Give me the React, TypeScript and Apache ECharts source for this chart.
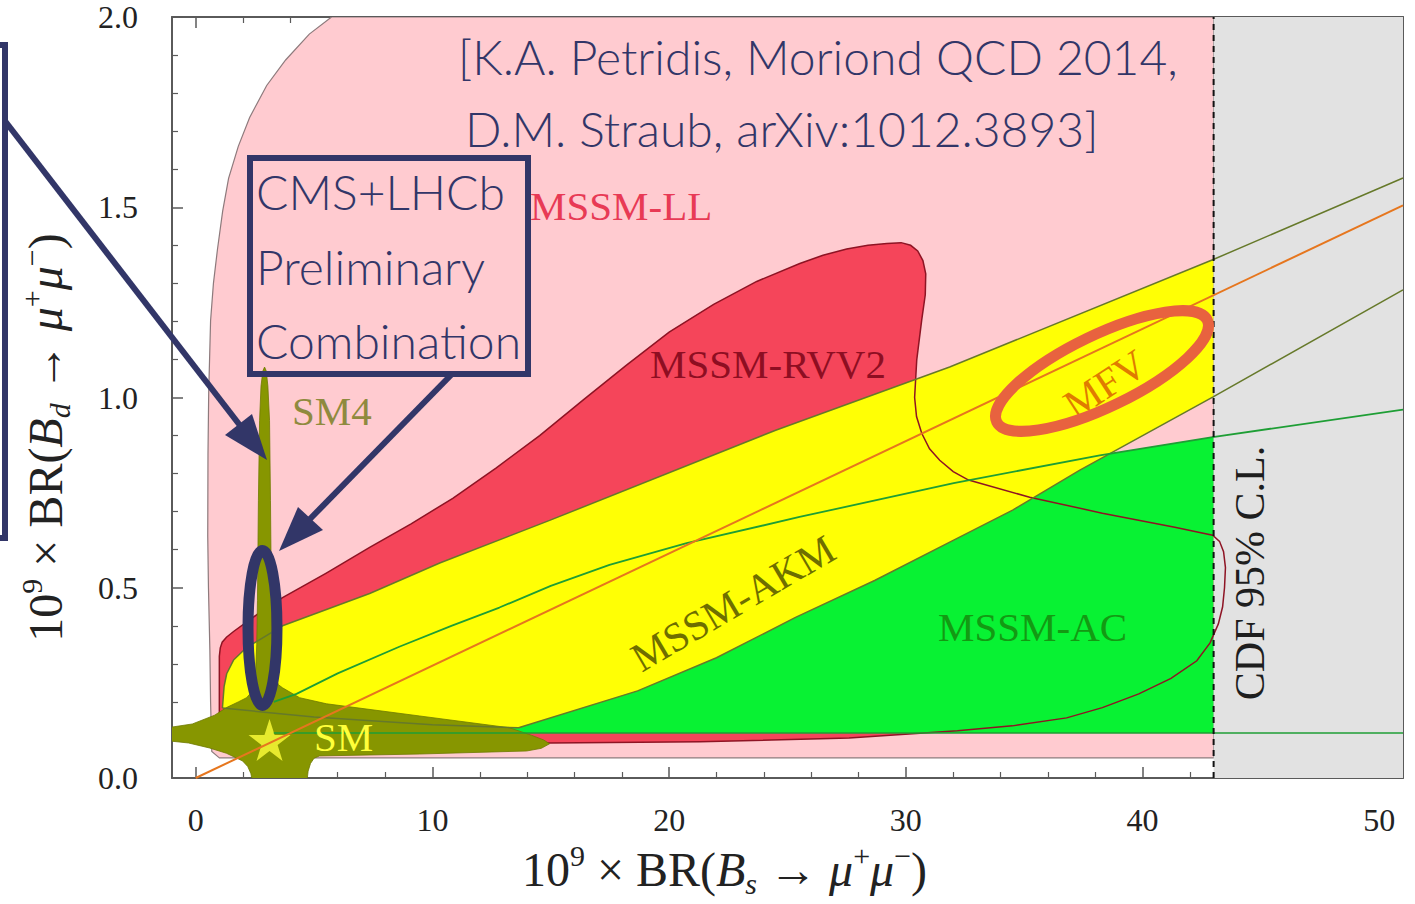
import React, { useEffect, useRef } from 'react';
import * as echarts from 'echarts';

// ---- axis ranges / ticks ----
const xRange = [-1, 51];
const yRange = [0, 2];
const xTickRange = [0, 50];
const xTickStep = 10;
const yTickStep = 0.5;

// ---- regions (x = 1e9 BR(Bs->mumu), y = 1e9 BR(Bd->mumu)) ----
const mssmLL = [
  [1.0, 0.053], [0.68, 0.07], [0.63, 0.2], [0.6, 0.335], [0.54, 0.5], [0.51, 0.635], [0.52, 0.85],
  [0.55, 1.012], [0.63, 1.202], [0.75, 1.3], [0.92, 1.389], [1.14, 1.49], [1.39, 1.576], [1.8, 1.66],
  [2.28, 1.736], [3.0, 1.82], [3.8, 1.887], [4.8, 1.955], [5.74, 2.0], [43, 2.0], [43, 0.053],
];
const mssmRVV2 = [
  [1.0, 0.092], [1.0, 0.32], [1.04, 0.342], [1.12, 0.357], [1.3, 0.37], [1.6, 0.385], [2.6, 0.43],
  [3.67, 0.474], [5.5, 0.538], [7.35, 0.606], [9.1, 0.668], [10.86, 0.735], [12.7, 0.815], [14.53, 0.9],
  [16.4, 0.995], [18.2, 1.085], [20.0, 1.172], [21.88, 1.245], [23.7, 1.305], [25.52, 1.352], [26.5, 1.374],
  [27.5, 1.39], [28.4, 1.4], [29.2, 1.405], [29.8, 1.407], [30.2, 1.4], [30.5, 1.385], [30.72, 1.36],
  [30.84, 1.325], [30.82, 1.27], [30.67, 1.204], [30.46, 1.099], [30.37, 1.0], [30.45, 0.95], [30.67, 0.906],
  [31.0, 0.865], [31.43, 0.835], [32.0, 0.805], [32.65, 0.783], [35.23, 0.738], [38.3, 0.696], [41.36, 0.659],
  [42.96, 0.638], [43.25, 0.622], [43.42, 0.595], [43.5, 0.553], [43.46, 0.5], [43.38, 0.45], [43.2, 0.405],
  [42.85, 0.355], [42.29, 0.308], [41.2, 0.262], [39.84, 0.221], [38.3, 0.185], [36.79, 0.158], [34.5, 0.137],
  [32.18, 0.124], [27.6, 0.105], [21.3, 0.095], [14.95, 0.092],
];
const akmUpper = [
  [1.13, 0.184], [1.2, 0.24], [1.31, 0.274], [1.6, 0.31], [2.15, 0.343], [3.67, 0.4], [7.35, 0.485],
  [10.31, 0.565], [14.95, 0.677], [24.5, 0.914], [31.85, 1.08], [42.96, 1.362], [51, 1.577],
];
const akmLower = [
  [1.13, 0.184], [5, 0.16], [10, 0.14], [13.64, 0.132], [18.67, 0.229], [22.0, 0.316], [25.34, 0.422],
  [28.68, 0.519], [32.02, 0.625], [34.51, 0.704], [37.35, 0.809], [42.96, 1.001], [51, 1.283],
];
const acUpper = [
  [3.3, 0.2], [4.26, 0.221], [6.0, 0.275], [8.6, 0.345], [10.8, 0.4], [12.83, 0.448], [15.0, 0.505],
  [17.48, 0.56], [20.74, 0.617], [25.51, 0.686], [32.02, 0.775], [38.19, 0.848], [42.96, 0.896], [51, 0.968],
];
const acLower = [[3.3, 0.118], [51, 0.118]];
const mfvLine = [[0, 0], [51, 1.505]];
const smBlob = [
  [-1.2, 0.132], [-0.14, 0.142], [0.8, 0.165], [1.3, 0.185], [1.8, 0.2], [2.15, 0.211], [2.4, 0.228],
  [2.52, 0.26], [2.58, 0.35], [2.61, 0.466], [2.65, 0.73], [2.7, 0.94], [2.76, 1.03], [2.84, 1.07],
  [2.91, 1.08], [2.98, 1.07], [3.05, 1.03], [3.12, 0.94], [3.16, 0.73], [3.2, 0.466], [3.24, 0.33],
  [3.32, 0.27], [3.5, 0.245], [3.67, 0.237], [4.39, 0.211], [5.53, 0.195], [9.46, 0.163], [13.26, 0.132],
  [14.2, 0.112], [14.7, 0.1], [14.95, 0.09], [14.6, 0.078], [13.98, 0.071], [9.46, 0.063], [5.23, 0.058],
  [5.0, 0.052], [4.85, 0.038], [4.75, 0.018], [4.7, -0.01], [2.4, -0.01], [2.33, 0.012], [2.2, 0.03],
  [1.98, 0.045], [1.3, 0.065], [0.58, 0.079], [-0.3, 0.092], [-1.2, 0.098],
];
const smPoint = [[3.12, 0.1]];
const cdfExcluded = [[43, 0], [51, 0], [51, 2], [43, 2]];
const cdfLimit = [[43, 0], [43, 2]];

const CLIP_X = 43;
const clipX = (pts: number[][]) => pts.filter((p) => p[0] <= CLIP_X);

const NAVY = '#323668';
const HAND = 'Lato, "Open Sans", sans-serif';
const SERIF = '"Liberation Serif", "DejaVu Serif", serif';

const polySeries = (name: string, pts: number[][], style: any) => ({
  type: 'custom',
  name,
  xAxisIndex: 0,
  yAxisIndex: 0,
  clip: true,
  silent: true,
  data: pts,
  renderItem: (params: any, api: any) => {
    if (params.dataIndex !== 0) return { type: 'group', children: [] };
    return {
      type: 'polygon',
      shape: { points: pts.map((p) => api.coord(p)) },
      style,
    };
  },
});

const lineSeries = (name: string, pts: number[][], color: string, width: number, extra: any = {}) => ({
  type: 'line',
  name,
  xAxisIndex: 0,
  yAxisIndex: 0,
  data: pts,
  showSymbol: false,
  symbol: 'none',
  silent: true,
  clip: true,
  lineStyle: { color, width, ...extra },
});

const mathRich = {
  n: { fontFamily: SERIF, fontSize: 48, lineHeight: 58, color: '#222' },
  i: { fontFamily: SERIF, fontStyle: 'italic', fontSize: 48, lineHeight: 58, color: '#222' },
  sup: { fontFamily: SERIF, fontSize: 30, lineHeight: 32, verticalAlign: 'top', color: '#222' },
  sub: { fontFamily: SERIF, fontStyle: 'italic', fontSize: 30, lineHeight: 38, verticalAlign: 'bottom', color: '#222' },
};

const GRID_L = 172;
const GRID_T = 17;
const GRID_W = 1231;
const GRID_H = 761;
const pxPerX = GRID_W / (xRange[1] - xRange[0]);

function buildOption() {
  const frameLine = { show: true, onZero: false, lineStyle: { color: '#5a5a5a', width: 2 } };
  const tick = { show: true, inside: true, length: 11, lineStyle: { color: '#5a5a5a', width: 1.5 } };
  const minor = { show: true, splitNumber: 5, length: 6, lineStyle: { color: '#5a5a5a', width: 1.2 } };
  const labelFont = { fontFamily: SERIF, fontSize: 32, color: '#222' };

  const text = (t: string, x: number, y: number, size: number, color: string, font = SERIF, rotation = 0, align = 'left', weight: any = 'normal') => ({
    type: 'text',
    x,
    y,
    rotation,
    silent: true,
    z: 100,
    style: {
      text: t,
      fill: color,
      fontSize: size,
      fontFamily: font,
      fontWeight: weight,
      align,
      verticalAlign: 'middle',
      textAlign: align,
      textVerticalAlign: 'middle',
    },
  });

  return {
    animation: false,
    backgroundColor: '#ffffff',
    grid: [
      { left: GRID_L, top: GRID_T, width: GRID_W, height: GRID_H },
      { left: GRID_L + pxPerX * (xTickRange[0] - xRange[0]), top: GRID_T, width: pxPerX * (xTickRange[1] - xTickRange[0]), height: GRID_H },
    ],
    xAxis: [
      { type: 'value', gridIndex: 0, position: 'bottom', min: xRange[0], max: xRange[1], axisLine: frameLine, axisTick: { show: false }, axisLabel: { show: false }, splitLine: { show: false } },
      { type: 'value', gridIndex: 0, position: 'top', min: xRange[0], max: xRange[1], axisLine: frameLine, axisTick: { show: false }, axisLabel: { show: false }, splitLine: { show: false } },
      {
        type: 'value', gridIndex: 1, position: 'bottom', min: xTickRange[0], max: xTickRange[1], interval: xTickStep,
        axisLine: { show: false, onZero: false }, axisTick: tick, minorTick: minor, splitLine: { show: false },
        axisLabel: { ...labelFont, margin: 26, formatter: (v: number) => String(v) },
        name: '{n|10}{sup|9}{n| × BR(}{i|B}{sub|s}{n| → }{i|μ}{sup|+}{i|μ}{sup|−}{n|)}',
        nameLocation: 'middle', nameGap: 62,
        nameTextStyle: { rich: mathRich, padding: [0, 126, 0, 0] },
      },
      {
        type: 'value', gridIndex: 1, position: 'top', min: xTickRange[0], max: xTickRange[1], interval: xTickStep,
        axisLine: { show: false, onZero: false }, axisTick: tick, minorTick: minor, splitLine: { show: false }, axisLabel: { show: false },
      },
    ],
    yAxis: [
      {
        type: 'value', gridIndex: 0, position: 'left', min: yRange[0], max: yRange[1], interval: yTickStep,
        axisLine: frameLine, axisTick: tick, minorTick: minor, splitLine: { show: false },
        axisLabel: { ...labelFont, margin: 34, formatter: (v: number) => v.toFixed(1) },
        name: '{n|10}{sup|9}{n| × BR(}{i|B}{sub|d}{n| → }{i|μ}{sup|+}{i|μ}{sup|−}{n|)}',
        nameLocation: 'middle', nameGap: 98, nameRotate: 90,
        nameTextStyle: { rich: mathRich, padding: [0, 80, 0, 0] },
      },
      {
        type: 'value', gridIndex: 0, position: 'right', min: yRange[0], max: yRange[1], interval: yTickStep,
        axisLine: frameLine, axisTick: tick, minorTick: minor, splitLine: { show: false }, axisLabel: { show: false },
      },
      { type: 'value', gridIndex: 1, min: yRange[0], max: yRange[1], show: false },
    ],
    series: [
      polySeries('MSSM-LL', mssmLL, { fill: '#FFCBD0', stroke: '#8d7a7c', lineWidth: 1.2 }),
      polySeries('MSSM-RVV2 fill', mssmRVV2, { fill: '#F5455A' }),
      polySeries('MSSM-AC', [...clipX(acUpper), [CLIP_X, 0.9], [CLIP_X, acLower[0][1]], acLower[0]], { fill: '#08F233' }),
      polySeries('MSSM-AKM', [...clipX(akmUpper), [CLIP_X, 1.363], [CLIP_X, 1.002], ...clipX(akmLower).reverse()], { fill: '#FFFF05' }),
      polySeries('CDF excluded', cdfExcluded, { fill: '#E2E2E2' }),
      lineSeries('AKM upper', akmUpper, '#66792A', 1.5),
      lineSeries('AKM lower', akmLower, '#66792A', 1.5),
      lineSeries('AC upper', acUpper, '#1E9E35', 1.8),
      lineSeries('AC lower', acLower, '#1E9E35', 1.5),
      polySeries('MSSM-RVV2 outline', mssmRVV2, { fill: 'none', stroke: '#8E1424', lineWidth: 1.5 }),
      polySeries('SM4 / SM', smBlob, { fill: '#879600', stroke: '#6f7a00', lineWidth: 0.8 }),
      lineSeries('MFV', mfvLine, '#E6761E', 2),
      lineSeries('CDF limit', cdfLimit, '#111111', 2, { type: [6, 5] }),
      {
        type: 'scatter', name: 'SM point', xAxisIndex: 0, yAxisIndex: 0, data: smPoint, silent: true,
        symbol: 'path://M50,0 L61.8,35.1 L98.9,35.1 L68.8,56.8 L80.3,91.9 L50,70.2 L19.7,91.9 L31.2,56.8 L1.1,35.1 L38.2,35.1 Z',
        symbolSize: 42, itemStyle: { color: '#FFFF3A' },
      },
    ],
    graphic: [
      text('MSSM-LL', 530, 206, 41, '#E83A55'),
      text('MSSM-RVV2', 650, 364, 41, '#8E0E22'),
      text('SM4', 292, 411, 41, '#8F8A3E'),
      text('SM', 314, 737, 41, '#FFFF3A'),
      text('MSSM-AKM', 733, 603, 41, '#6E6E00', SERIF, 0.53, 'center'),
      text('MSSM-AC', 938, 627, 41, '#139A13'),
      text('MFV', 1105, 384, 41, '#E07B00', SERIF, 0.58, 'center'),
      text('CDF 95% C.L.', 1250, 573, 42, '#1E1E1E', SERIF, Math.PI / 2, 'center'),
      // annotations
      text('[K.A. Petridis, Moriond QCD 2014,', 458, 56, 48, NAVY, HAND, 0, 'left', 300),
      text('D.M. Straub, arXiv:1012.3893]', 465, 128, 48, NAVY, HAND, 0, 'left', 300),
      text('CMS+LHCb', 256, 191, 48, NAVY, HAND, 0, 'left', 300),
      text('Preliminary', 256, 266, 48, NAVY, HAND, 0, 'left', 300),
      text('Combination', 256, 340, 48, NAVY, HAND, 0, 'left', 300),
      { type: 'rect', z: 101, silent: true, shape: { x: 250, y: 158, width: 278, height: 216 }, style: { fill: 'none', stroke: NAVY, lineWidth: 6 } },
      { type: 'polyline', z: 101, silent: true, shape: { points: [[-10, 45], [5, 45], [5, 538], [-10, 538]] }, style: { fill: 'none', stroke: NAVY, lineWidth: 6 } },
      { type: 'line', z: 101, silent: true, shape: { x1: 5, y1: 121, x2: 242, y2: 428 }, style: { stroke: NAVY, lineWidth: 6 } },
      { type: 'polygon', z: 101, silent: true, shape: { points: [[267, 460], [252, 414], [225, 435]] }, style: { fill: NAVY } },
      { type: 'line', z: 101, silent: true, shape: { x1: 452, y1: 374, x2: 308, y2: 521 }, style: { stroke: NAVY, lineWidth: 6 } },
      { type: 'polygon', z: 101, silent: true, shape: { points: [[279, 551], [298, 507], [323, 530]] }, style: { fill: NAVY } },
      { type: 'ellipse', z: 101, silent: true, shape: { cx: 262.5, cy: 628, rx: 14.5, ry: 77.5 }, style: { fill: 'none', stroke: NAVY, lineWidth: 11 } },
      { type: 'ellipse', z: 101, silent: true, x: 1102, y: 371, rotation: 0.45, shape: { cx: 0, cy: 0, rx: 117, ry: 36 }, style: { fill: 'none', stroke: '#E8623F', lineWidth: 11 } },
    ],
  };
}

export default function App() {
  const ref = useRef<HTMLDivElement>(null);
  useEffect(() => {
    if (!ref.current) return;
    const chart = echarts.init(ref.current, undefined, { renderer: 'svg' });
    chart.setOption(buildOption() as any);
    return () => chart.dispose();
  }, []);
  return <div ref={ref} style={{ position: 'absolute', left: 0, top: 0, width: 1415, height: 904, background: '#fff' }} />;
}
